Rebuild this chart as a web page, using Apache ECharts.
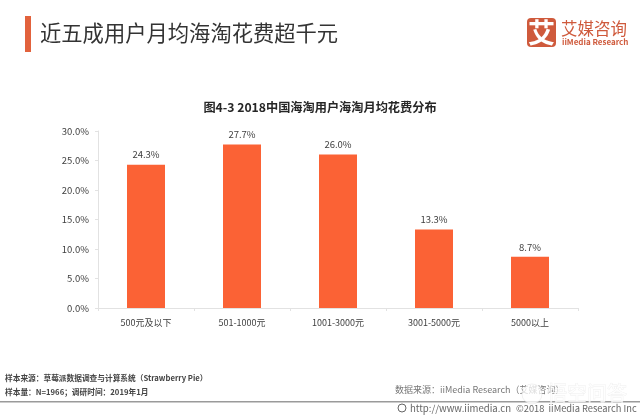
<!DOCTYPE html>
<html>
<head>
<meta charset="utf-8">
<style>
  html, body { margin: 0; padding: 0; background: #fff; }
  #chart { width: 640px; height: 416px; }
</style>
<script src="https://cdn.jsdelivr.net/npm/echarts@6/dist/echarts.min.js"></script>
</head>
<body>
<div id="chart"></div>
<script>
var categories = ['500元及以下', '501-1000元', '1001-3000元', '3001-5000元', '5000以上'];
var shares = [24.3, 27.7, 26.0, 13.3, 8.7];

var cjk = '"Noto Sans CJK SC", "Noto Sans", sans-serif';
var orange = '#fb6235';
var brand = '#cf5a3c';

var chart = echarts.init(document.getElementById('chart'));

function label(x, y, text, size, color, weight, align) {
  return {
    type: 'text', x: x, y: y,
    style: { text: text, fontFamily: cjk, fontSize: size, fill: color, fontWeight: weight || 'normal', align: align || 'left', verticalAlign: 'middle' }
  };
}

chart.setOption({
  animation: false,
  backgroundColor: '#fff',
  grid: { left: 98, right: 62, top: 131, bottom: 108 },
  xAxis: {
    type: 'category',
    data: categories,
    axisLine: { lineStyle: { color: '#e2e2e2' } },
    axisTick: { show: true, length: 3, lineStyle: { color: '#e2e2e2' } },
    axisLabel: { fontFamily: cjk, fontSize: 9, color: '#404040', margin: 10 }
  },
  yAxis: {
    type: 'value',
    min: 0, max: 30, interval: 5,
    axisLine: { show: true, lineStyle: { color: '#e2e2e2' } },
    axisTick: { show: true, length: 3, lineStyle: { color: '#e2e2e2' } },
    splitLine: { show: false },
    axisLabel: { fontFamily: cjk, fontSize: 9.5, color: '#404040', margin: 9, formatter: function (v) { return v.toFixed(1) + '%'; } }
  },
  series: [{
    type: 'bar',
    data: shares,
    barWidth: 38,
    itemStyle: { color: orange },
    label: {
      show: true, position: 'top', distance: 5,
      fontFamily: cjk, fontSize: 9.5, color: '#404040',
      formatter: function (p) { return p.value.toFixed(1) + '%'; }
    }
  }],
  graphic: [
    // 顶部标题
    { type: 'rect', shape: { x: 25, y: 16, width: 6, height: 36 }, style: { fill: '#e2623c' } },
    label(40, 33, '近五成用户月均海淘花费超千元', 21.3, '#333'),
    // 图表标题
    label(320, 107, '图4-3 2018中国海淘用户海淘月均花费分布', 12.2, '#262626', 'bold', 'center'),
    // 右上角标志
    { type: 'rect', shape: { x: 527, y: 18, width: 29, height: 29, r: 4 }, style: { fill: brand } },
    label(541.5, 32.5, '艾', 27, '#fff', 'bold', 'center'),
    label(561, 28.5, '艾媒咨询', 16.5, brand, 'normal'),
    label(562, 42, 'iiMedia Research', 8, brand, 'bold'),
    // 底部来源
    label(5, 378, '样本来源：草莓派数据调查与计算系统（Strawberry Pie）', 7.7, '#444', 'bold'),
    label(5, 392, '样本量：N=1966；调研时间：2019年1月', 7.7, '#444', 'bold'),
    label(395, 390, '数据来源：iiMedia Research（艾媒咨询）', 9, '#777'),
    { type: 'rect', shape: { x: 0, y: 401, width: 640, height: 1.5 }, style: { fill: '#9a9a9a' } },
    { type: 'circle', shape: { cx: 402, cy: 408, r: 4 }, style: { fill: 'none', stroke: '#666' } },
    label(410, 408, 'http://www.iimedia.cn', 9.6, '#666'),
    label(516, 408, '©2018  iiMedia Research Inc', 9.3, '#666'),
    // 水印
    { type: 'circle', shape: { cx: 532, cy: 394, r: 10 }, style: { fill: 'rgba(255,255,255,0.75)', stroke: 'rgba(210,210,210,0.3)' } },
    {
      type: 'text', x: 547, y: 393,
      style: { text: '悟空问答', fontFamily: cjk, fontSize: 20, fill: 'rgba(255,255,255,0.8)', stroke: 'rgba(215,215,215,0.4)', lineWidth: 0.8, verticalAlign: 'middle' }
    }
  ]
});
</script>
</body>
</html>
